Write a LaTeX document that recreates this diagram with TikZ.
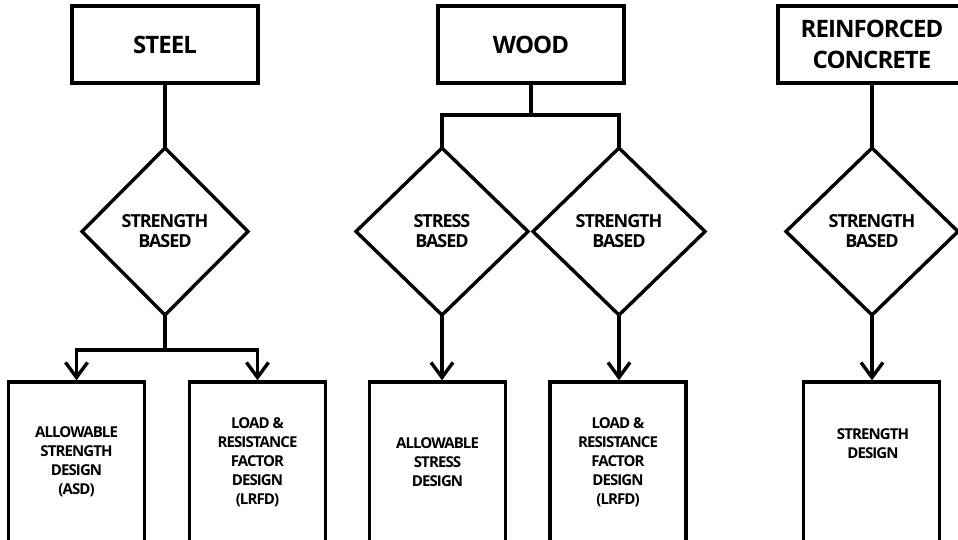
\documentclass[tikz,border=0pt]{standalone}
\usepackage{fontspec}
\setmainfont{Open Sans}
\newfontfamily\titlefont[LetterSpace=-4]{Open Sans}
\newfontfamily\innerfont[LetterSpace=-6]{Open Sans}
\usetikzlibrary{shapes.geometric,arrows.meta}
\begin{document}
\begin{tikzpicture}[x=1pt,y=-1pt,
  line width=3.4pt,
  titlebox/.style={draw,rectangle,minimum width=186pt,minimum height=77pt,inner sep=0pt,font=\titlefont\bfseries\fontsize{24}{31}\selectfont,align=center},
  decide/.style={draw,diamond,minimum width=172pt,minimum height=167pt,inner sep=0pt,outer sep=0pt,font=\innerfont\bfseries\fontsize{18}{20}\selectfont,align=center},
  resultbox/.style={draw,rectangle,minimum width=136pt,minimum height=160pt,inner sep=0pt,font=\innerfont\bfseries\fontsize{15}{19}\selectfont,align=center},
  inner/.style={font=\innerfont\bfseries\fontsize{15}{19}\selectfont,align=center,inner sep=0pt},
  arr/.style={-{Straight Barb[length=15pt,width=22pt,line width=3.4pt]}},
  line join=miter]
\useasboundingbox (0,0) rectangle (958,539);
\clip (0,0) rectangle (958,539);
% titles
\node[titlebox] (steel) at (165,44.5) {STEEL};
\node[titlebox] (wood) at (531,44.5) {WOOD};
\node[titlebox,minimum width=188pt] (rc) at (872,44.5) {REINFORCED\\CONCRETE};
% decisions
\node[decide,minimum width=166pt] (steelD) at (165,231.5) {STRENGTH\\BASED};
\node[decide] (stressD) at (442,231.5) {STRESS\\BASED};
\node[decide] (woodD) at (619,231.5) {STRENGTH\\BASED};
\node[decide] (rcD) at (872,231.5) {STRENGTH\\BASED};
% results
\node[resultbox] (asd) at (76.5,462) {ALLOWABLE\\STRENGTH\\DESIGN\\(ASD)};
\node[resultbox] (lrfdS) at (257.5,462) {LOAD \&\\RESISTANCE\\FACTOR\\DESIGN\\(LRFD)};
\node[resultbox] (asdW) at (437.5,462) {ALLOWABLE\\STRESS\\DESIGN};
\node[resultbox] (lrfdW) at (618,462) {LOAD \&\\RESISTANCE\\FACTOR\\DESIGN\\(LRFD)};
\node[resultbox] (sd) at (871.5,462) {};
\node[inner] (sdText) at (873,444) {STRENGTH\\DESIGN};
% connectors
\coordinate (sj) at (165,350);
\coordinate (wj) at (531,115);
\draw (steel.south) -- (steelD.north);
\draw (steelD.south) -- (sj);
\draw[arr] (sj) -| (asd.north);
\draw[arr] (sj) -| (lrfdS.north);
\draw (wood.south) -- (wj);
\draw (wj) -| (stressD.north);
\draw (wj) -| (woodD.north);
\draw[arr] (stressD.south) -- (stressD.south |- asdW.north);
\draw[arr] (woodD.south) -- (woodD.south |- lrfdW.north);
\draw (rc.south) -- (rcD.north);
\draw[arr] (rcD.south) -- (rcD.south |- sd.north);
\end{tikzpicture}
\end{document}
